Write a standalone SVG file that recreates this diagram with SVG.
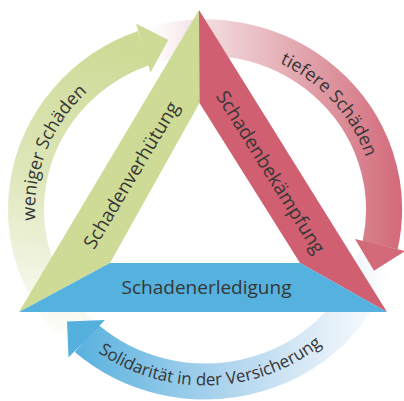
<svg xmlns="http://www.w3.org/2000/svg" width="404" height="401" viewBox="0 0 404 401">
<defs>
<style>
.lbl{font-family:"Open Sans","Noto Sans","DejaVu Sans",sans-serif;fill:#363636;}
.band{fill:none;stroke-width:36;}
</style>
<linearGradient id="gGreen" gradientUnits="userSpaceOnUse" x1="70" y1="345" x2="135" y2="55">
<stop offset="0" stop-color="#ffffff"/>
<stop offset="0.2" stop-color="#f2f5e3"/>
<stop offset="0.55" stop-color="#dde6b8"/>
<stop offset="1" stop-color="#cddb97"/>
</linearGradient>
<linearGradient id="gRed" gradientUnits="userSpaceOnUse" x1="150" y1="0" x2="400" y2="0">
<stop offset="0" stop-color="#ffffff"/>
<stop offset="0.22" stop-color="#f3dde0"/>
<stop offset="0.6" stop-color="#e2a6ae"/>
<stop offset="1" stop-color="#d36a7a"/>
</linearGradient>
<linearGradient id="gBlue" gradientUnits="userSpaceOnUse" x1="390" y1="0" x2="70" y2="0">
<stop offset="0" stop-color="#ffffff"/>
<stop offset="0.25" stop-color="#dbeaf6"/>
<stop offset="0.55" stop-color="#a8d2ed"/>
<stop offset="1" stop-color="#55b0de"/>
</linearGradient>
<path id="tpGreen" d="M 44.3 262.6 A 170 163 0 0 1 122.6 66.9"/>
<path id="tpRed" d="M 231.6 48.5 A 170 163 0 0 1 375.0 206.7"/>
<path id="tpBlue" d="M 92.3 348.2 A 183 176 0 0 0 327.4 340.3"/>
</defs>
<rect width="404" height="401" fill="#ffffff"/>
<g id="connectors">
<path class="band" stroke="url(#gGreen)" d="M 94.8 345.0 A 179 172 0 0 1 143.8 47.9"/>
<path class="band" stroke="url(#gRed)" d="M 149.7 45.9 A 179 172 0 0 1 380.1 245.3"/>
<path class="band" stroke="url(#gBlue)" d="M 378.7 251.1 A 179 172 0 0 1 86.4 338.3"/>
<polygon fill="#cddb97" points="136,23.5 168.3,40 150.5,72.5"/>
<polygon fill="#d36a7a" points="355,239 405,251 374,270.7"/>
<polygon fill="#55b0de" points="67,321.5 105,320 68.5,357.5"/>
<text class="lbl" font-size="18"><textPath href="#tpGreen" startOffset="50%" text-anchor="middle">weniger Schäden</textPath></text>
<text class="lbl" font-size="18"><textPath href="#tpRed" startOffset="50%" text-anchor="middle">tiefere Schäden</textPath></text>
<text class="lbl" font-size="17"><textPath href="#tpBlue" startOffset="50%" text-anchor="middle">Solidarität in der Versicherung</textPath></text>
</g>
<g id="node-schadenverhuetung">
<polygon fill="#cddb97" points="199,10 199.5,103 110,263 19,312"/>
<text class="lbl" font-size="19" x="131" y="175" dy="0.36em" text-anchor="middle" transform="rotate(-59.2 131 175)">Schadenverhütung</text>
</g>
<g id="node-schadenbekaempfung">
<polygon fill="#d05f71" points="199,10 387,312 300,263 199.5,103"/>
<text class="lbl" font-size="19" x="271" y="172" dy="0.36em" text-anchor="middle" transform="rotate(58.1 271 172)">Schadenbekämpfung</text>
</g>
<g id="node-schadenerledigung">
<polygon fill="#55b1dd" points="110,263 300,263 387,312 19,312"/>
<text class="lbl" font-size="19" x="206.5" y="287" dy="0.36em" text-anchor="middle">Schadenerledigung</text>
</g>
</svg>
